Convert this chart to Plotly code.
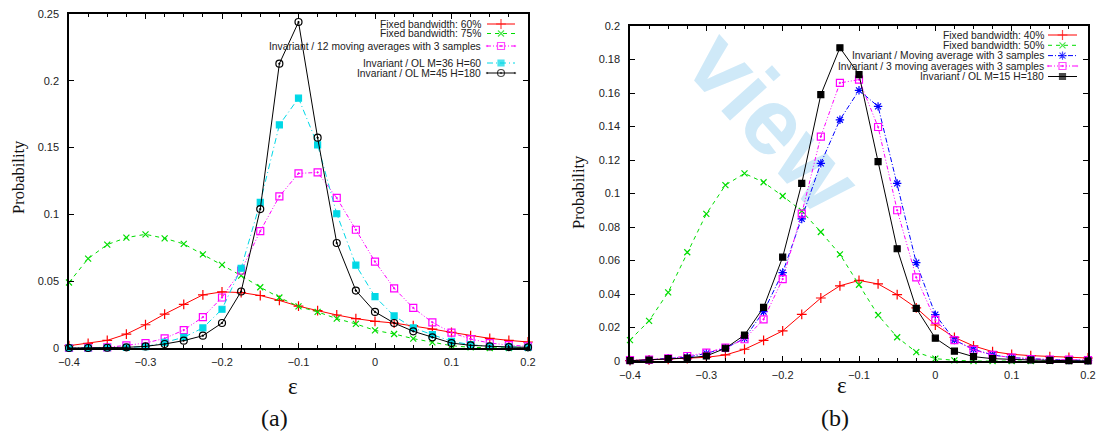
import plotly.graph_objects as go

# ---------------- data ----------------
eps = [-0.4, -0.375, -0.35, -0.325, -0.3, -0.275, -0.25, -0.225, -0.2, -0.175,
       -0.15, -0.125, -0.1, -0.075, -0.05, -0.025, 0.0, 0.025, 0.05, 0.075,
       0.1, 0.125, 0.15, 0.175, 0.2]

# panel (a)
a_fixed60 = [0.0017, 0.0035, 0.0057, 0.0104, 0.0174, 0.0254, 0.0326, 0.0398, 0.042, 0.0415,
             0.0393, 0.0356, 0.0313, 0.0280, 0.0247, 0.022, 0.020, 0.0187, 0.0167, 0.0142,
             0.0117, 0.0092, 0.0072, 0.0057, 0.0045]
a_fixed75 = [0.049, 0.0669, 0.0774, 0.0826, 0.0851, 0.0821, 0.0779, 0.0701, 0.0622, 0.0542,
             0.0455, 0.0378, 0.0311, 0.027, 0.022, 0.018, 0.0132, 0.0105, 0.007, 0.0042,
             0.0017, 0.0005, 0.0, 0.0, 0.0]
a_ma12 = [0.0, 0.0002, 0.0005, 0.002, 0.0037, 0.0072, 0.0134, 0.0231, 0.0378, 0.058,
          0.0875, 0.1135, 0.1307, 0.1314, 0.1123, 0.0885, 0.0646, 0.0447, 0.030, 0.0192,
          0.0115, 0.0067, 0.0037, 0.0022, 0.0012]
a_ol36 = [0.0, 0.0, 0.0002, 0.0005, 0.001, 0.0042, 0.008, 0.015, 0.029, 0.0597,
          0.109, 0.167, 0.187, 0.152, 0.1005, 0.062, 0.0384, 0.024, 0.015, 0.010,
          0.005, 0.0025, 0.0012, 0.0008, 0.0005]
a_ol45 = [0.0, 0.0, 0.0002, 0.0005, 0.0012, 0.003, 0.0055, 0.0092, 0.0187, 0.0423,
          0.104, 0.2128, 0.244, 0.1574, 0.0786, 0.043, 0.027, 0.0187, 0.0125, 0.008,
          0.0037, 0.002, 0.0012, 0.0007, 0.0005]

# panel (b)
b_fixed40 = [0.0002, 0.0006, 0.001, 0.0014, 0.0022, 0.0036, 0.007, 0.0123, 0.018, 0.0278,
             0.0376, 0.0449, 0.0481, 0.046, 0.0396, 0.0317, 0.0215, 0.0141, 0.009, 0.0056,
             0.004, 0.0032, 0.0026, 0.0022, 0.0018]
b_fixed50 = [0.0125, 0.024, 0.041, 0.0649, 0.0878, 0.105, 0.112, 0.1067, 0.0985, 0.0896,
             0.077, 0.0637, 0.0455, 0.0274, 0.0142, 0.0053, 0.0014, 0.0004, 0.0, 0.0,
             0.0, 0.0, 0.0, 0.0, 0.0]
b_ma1 = [0.0002, 0.0006, 0.0016, 0.0022, 0.0046, 0.0076, 0.0135, 0.0295, 0.0528, 0.0848,
         0.118, 0.144, 0.1616, 0.152, 0.106, 0.0587, 0.0277, 0.0125, 0.007, 0.0036,
         0.002, 0.0012, 0.0008, 0.0006, 0.0004]
b_ma3 = [0.0006, 0.0008, 0.0016, 0.003, 0.005, 0.008, 0.013, 0.0249, 0.0489, 0.088,
         0.134, 0.166, 0.168, 0.1397, 0.090, 0.0499, 0.0245, 0.0125, 0.0066, 0.0036,
         0.002, 0.0012, 0.0008, 0.0008, 0.0006]
b_ol15 = [0.0002, 0.0006, 0.0014, 0.0018, 0.003, 0.0076, 0.0155, 0.032, 0.062, 0.106,
          0.159, 0.187, 0.171, 0.119, 0.067, 0.0314, 0.0136, 0.0059, 0.0026, 0.0014,
          0.0008, 0.0006, 0.0004, 0.0002, 0.0]

a_names = ["Fixed bandwidth: 60%", "Fixed bandwidth: 75%",
           "Invariant / 12 moving averages with 3 samples",
           "Invariant / OL M=36 H=60", "Invariant / OL M=45 H=180"]
b_names = ["Fixed bandwidth: 40%", "Fixed bandwidth: 50%",
           "Invariant / Moving average with 3 samples",
           "Invariant / 3 moving averages with 3 samples",
           "Invariant / OL M=15 H=180"]

# ---------------- styles ----------------
W, H = 1098, 434
RED, GREEN, MAG, CYAN, BLK, BLUE = "#ff0000", "#00dd00", "#ff00ff", "#00d8e6", "#000000", "#0000ff"

a_styles = [
    dict(color=RED, dash="solid", symbol="cross-thin", size=7),
    dict(color=GREEN, dash="4px,4px", symbol="x-thin", size=6),
    dict(color=MAG, dash="4px,2px,1px,2px,1px,2px", symbol="square-open-dot", size=7),
    dict(color=CYAN, dash="6px,3px,1px,3px", symbol="square", size=6),
    dict(color=BLK, dash="solid", symbol="circle-open-dot", size=7),
]
b_styles = [
    dict(color=RED, dash="solid", symbol="cross-thin", size=7),
    dict(color=GREEN, dash="4px,4px", symbol="x-thin", size=6),
    dict(color=BLUE, dash="5px,2px,1px,2px", symbol="asterisk-open", size=7),
    dict(color=MAG, dash="4px,2px,1px,2px,1px,2px", symbol="square-open-dot", size=7),
    dict(color=BLK, dash="solid", symbol="square", size=6),
]

fig = go.Figure()


def add_series(x, y, st, xa, ya, name):
    fig.add_trace(go.Scatter(
        x=x, y=y, mode="lines+markers", name=name, xaxis=xa, yaxis=ya,
        cliponaxis=False, showlegend=False,
        line=dict(color=st["color"], width=1, dash=st["dash"]),
        marker=dict(symbol=st["symbol"], size=st["size"], color=st["color"],
                    line=dict(color=st["color"], width=1.2)),
    ))


for ys, st, nm in zip([a_fixed60, a_fixed75, a_ma12, a_ol36, a_ol45], a_styles, a_names):
    add_series(eps, ys, st, "x", "y", nm)
for ys, st, nm in zip([b_fixed40, b_fixed50, b_ma1, b_ma3, b_ol15], b_styles, b_names):
    add_series(eps, ys, st, "x2", "y2", nm)

# ---------------- manual gnuplot-style keys (pixel overlay axis) ----------------
annotations = []
TXT = dict(family="Liberation Sans, Arial, sans-serif", size=10.3, color="#222222")


def add_key(names, styles, rows, text_right, s0, s1):
    for nm, st, ry in zip(names, styles, rows):
        fig.add_trace(go.Scatter(
            x=[s0, (s0 + s1) / 2, s1], y=[ry, ry, ry], xaxis="x3", yaxis="y3",
            mode="lines+markers", showlegend=False, hoverinfo="skip", cliponaxis=False,
            line=dict(color=st["color"], width=1, dash=st["dash"]),
            marker=dict(symbol=st["symbol"], size=[0, st["size"], 0], color=st["color"],
                        line=dict(color=st["color"], width=1.2)),
        ))
        annotations.append(dict(x=text_right, y=ry, xref="x3", yref="y3", text=nm,
                                showarrow=False, xanchor="right", yanchor="middle",
                                font=TXT))


add_key(a_names, a_styles, [24, 33.5, 46, 63, 73], 483, 487, 515)
add_key(b_names, b_styles, [35, 45.3, 55.6, 66, 76.5], 1046, 1048, 1077)

SERIF = "Liberation Serif, Times New Roman, serif"
for txt, x, y, sz, ang in [
    ("Probability", 18, 177, 16.5, -90), ("Probability", 578, 192, 16.5, -90),
    ("ε", 293, 386, 23, 0), ("ε", 842, 385, 23, 0),
    ("(a)", 274, 418, 24, 0), ("(b)", 835, 418, 24, 0)]:
    annotations.append(dict(x=x, y=y, xref="x3", yref="y3", text=txt, showarrow=False,
                            xanchor="center", yanchor="middle", textangle=ang,
                            font=dict(family=SERIF, size=sz, color="#111111")))

# ---------------- axes ----------------
TICKFONT = dict(family="Liberation Sans, Arial, sans-serif", size=11, color="#222222")


def xax(dom):
    return dict(domain=dom, range=[-0.4, 0.2], tick0=-0.4, dtick=0.1, ticks="inside",
                ticklen=5, tickwidth=1, tickcolor="black", showline=True, linecolor="black",
                linewidth=1.5, mirror="ticks", showgrid=False, zeroline=False,
                tickfont=TICKFONT, automargin=False, ticklabelstandoff=3,
                minor=dict(dtick=0.025, tick0=-0.4, ticks="inside", ticklen=3,
                           tickcolor="black", showgrid=False))


def yax(dom, top, dt):
    return dict(domain=dom, range=[0, top], tick0=0, dtick=dt, ticks="inside",
                ticklen=5, tickwidth=1, tickcolor="black", showline=True, linecolor="black",
                linewidth=1.5, mirror="ticks", showgrid=False, zeroline=False,
                tickfont=TICKFONT, automargin=False, ticklabelstandoff=6)


# watermark box (pixel coordinates converted to paper fractions)
WM_X0, WM_X1, WM_Y0, WM_Y1 = 691, 871, 16, 214

fig.update_layout(
    width=W, height=H, margin=dict(l=0, r=0, t=0, b=0),
    paper_bgcolor="white", plot_bgcolor="rgba(0,0,0,0)",
    xaxis=dict(**xax([69 / W, 528 / W]), anchor="y"),
    yaxis=dict(**yax([1 - 348 / H, 1 - 14 / H], 0.25, 0.05), anchor="x"),
    xaxis2=dict(**xax([630 / W, 1088 / W]), anchor="y2"),
    yaxis2=dict(**yax([1 - 361 / H, 1 - 26 / H], 0.2, 0.02), anchor="x2"),
    xaxis3=dict(domain=[0, 1], range=[0, W], visible=False, anchor="y3", fixedrange=True),
    yaxis3=dict(domain=[0, 1], range=[H, 0], visible=False, anchor="x3", fixedrange=True),
    annotations=annotations,
    shapes=[dict(type="rect", xref="paper", yref="paper", layer="below",
                 x0=WM_X0 / W, x1=WM_X1 / W, y0=1 - WM_Y1 / H, y1=1 - WM_Y0 / H,
                 line=dict(width=0), fillcolor="rgba(0,0,0,0)",
                 label=dict(text="view", textangle=48, textposition="middle center",
                            font=dict(family="Liberation Sans, Arial, sans-serif", size=94,
                                      color="#cfe9f8", weight="bold")))],
    showlegend=False,
)

fig.write_html("out.html")
